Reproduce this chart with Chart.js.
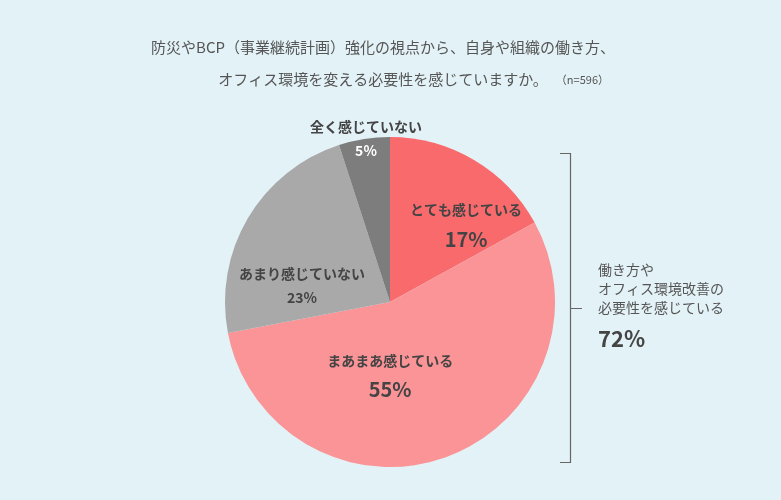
<!DOCTYPE html>
<html><head><meta charset="utf-8">
<script src="https://cdn.jsdelivr.net/npm/chart.js@4"></script>
<style>html,body{margin:0;padding:0;background:#e3f2f7;}#w{width:781px;height:500px;position:relative;}</style>
</head><body><div id="w"><canvas id="c" width="781" height="500"></canvas></div>
<script>
const categories = ["とても感じている","まあまあ感じている","あまり感じていない","全く感じていない"];
const values = [17,55,23,5];
const colors = ["#f96a6c","#fa9496","#a9a9a9","#7d7d7d"];
const titleLines = ["防災やBCP（事業継続計画）強化の視点から、自身や組織の働き方、","オフィス環境を変える必要性を感じていますか。"];
const note = "（n=596）";
const bracketText = ["働き方や","オフィス環境改善の","必要性を感じている"];
const bracketValue = "72%";
const F = '"Noto Sans CJK JP", "Noto Sans", sans-serif';
// per-slice label placement: radius fraction and pixel nudges
const lab = [
  {r:0.62, dx:24, dy:10, big:20},
  {r:0.45, dx:-25, dy:3, big:20},
  {r:0.55, dx:-10, dy:30, big:14},
  {r:0.93, dx:0, dy:0, big:14}
];
const plug = {
  id:'txt',
  afterDraw(ch){
    const c = ch.ctx, meta = ch.getDatasetMeta(0);
    c.save();
    c.fillStyle = '#555'; c.textAlign='center'; c.textBaseline='middle';
    c.font = '15px '+F;
    c.fillText(titleLines[0], 383, 47);
    c.fillText(titleLines[1], 383, 79);
    const w2 = c.measureText(titleLines[1]).width;
    c.font = '11px '+F; c.textAlign='left';
    c.fillText(note, 383+w2/2+8, 80);
    meta.data.forEach((a,i)=>{
      const mid = (a.startAngle+a.endAngle)/2;
      const R = a.outerRadius*lab[i].r;
      const x = a.x + Math.cos(mid)*R + lab[i].dx;
      const y = a.y + Math.sin(mid)*R + lab[i].dy;
      c.textAlign='center';
      if(i===3){
        c.fillStyle='#444'; c.font='bold 14px '+F; c.fillText(categories[i], x, y-24);
        c.fillStyle='#fff'; c.font='bold 14px '+F; c.fillText(values[i]+'%', x, y);
      } else {
        c.fillStyle='#444'; c.font='bold 14px '+F;
        c.fillText(categories[i], x, y-(lab[i].big>14?14:12));
        c.font='bold '+lab[i].big+'px '+F;
        c.fillText(values[i]+'%', x, y+(lab[i].big>14?15:12));
      }
    });
    // bracket
    c.strokeStyle='#666'; c.lineWidth=1.2;
    c.beginPath();
    c.moveTo(560,153.5); c.lineTo(570.5,153.5); c.lineTo(570.5,462.5); c.lineTo(560,462.5);
    c.moveTo(570.5,308.5); c.lineTo(582,308.5);
    c.stroke();
    c.fillStyle='#555'; c.textAlign='left'; c.font='14px '+F;
    bracketText.forEach((t,i)=>c.fillText(t, 598, 270+i*19));
    c.font='bold 22px '+F; c.fillStyle='#444';
    c.fillText(bracketValue, 598, 339);
    c.restore();
  }
};
new Chart(document.getElementById('c'),{
  type:'pie',
  data:{labels:categories,datasets:[{data:values,backgroundColor:colors,borderColor:'#e3f2f7',borderWidth:0}]},
  options:{responsive:false,animation:false,
    layout:{padding:{top:137,bottom:33,left:225,right:226}},
    plugins:{legend:{display:false},tooltip:{enabled:false}}},
  plugins:[plug]
});
</script></body></html>
